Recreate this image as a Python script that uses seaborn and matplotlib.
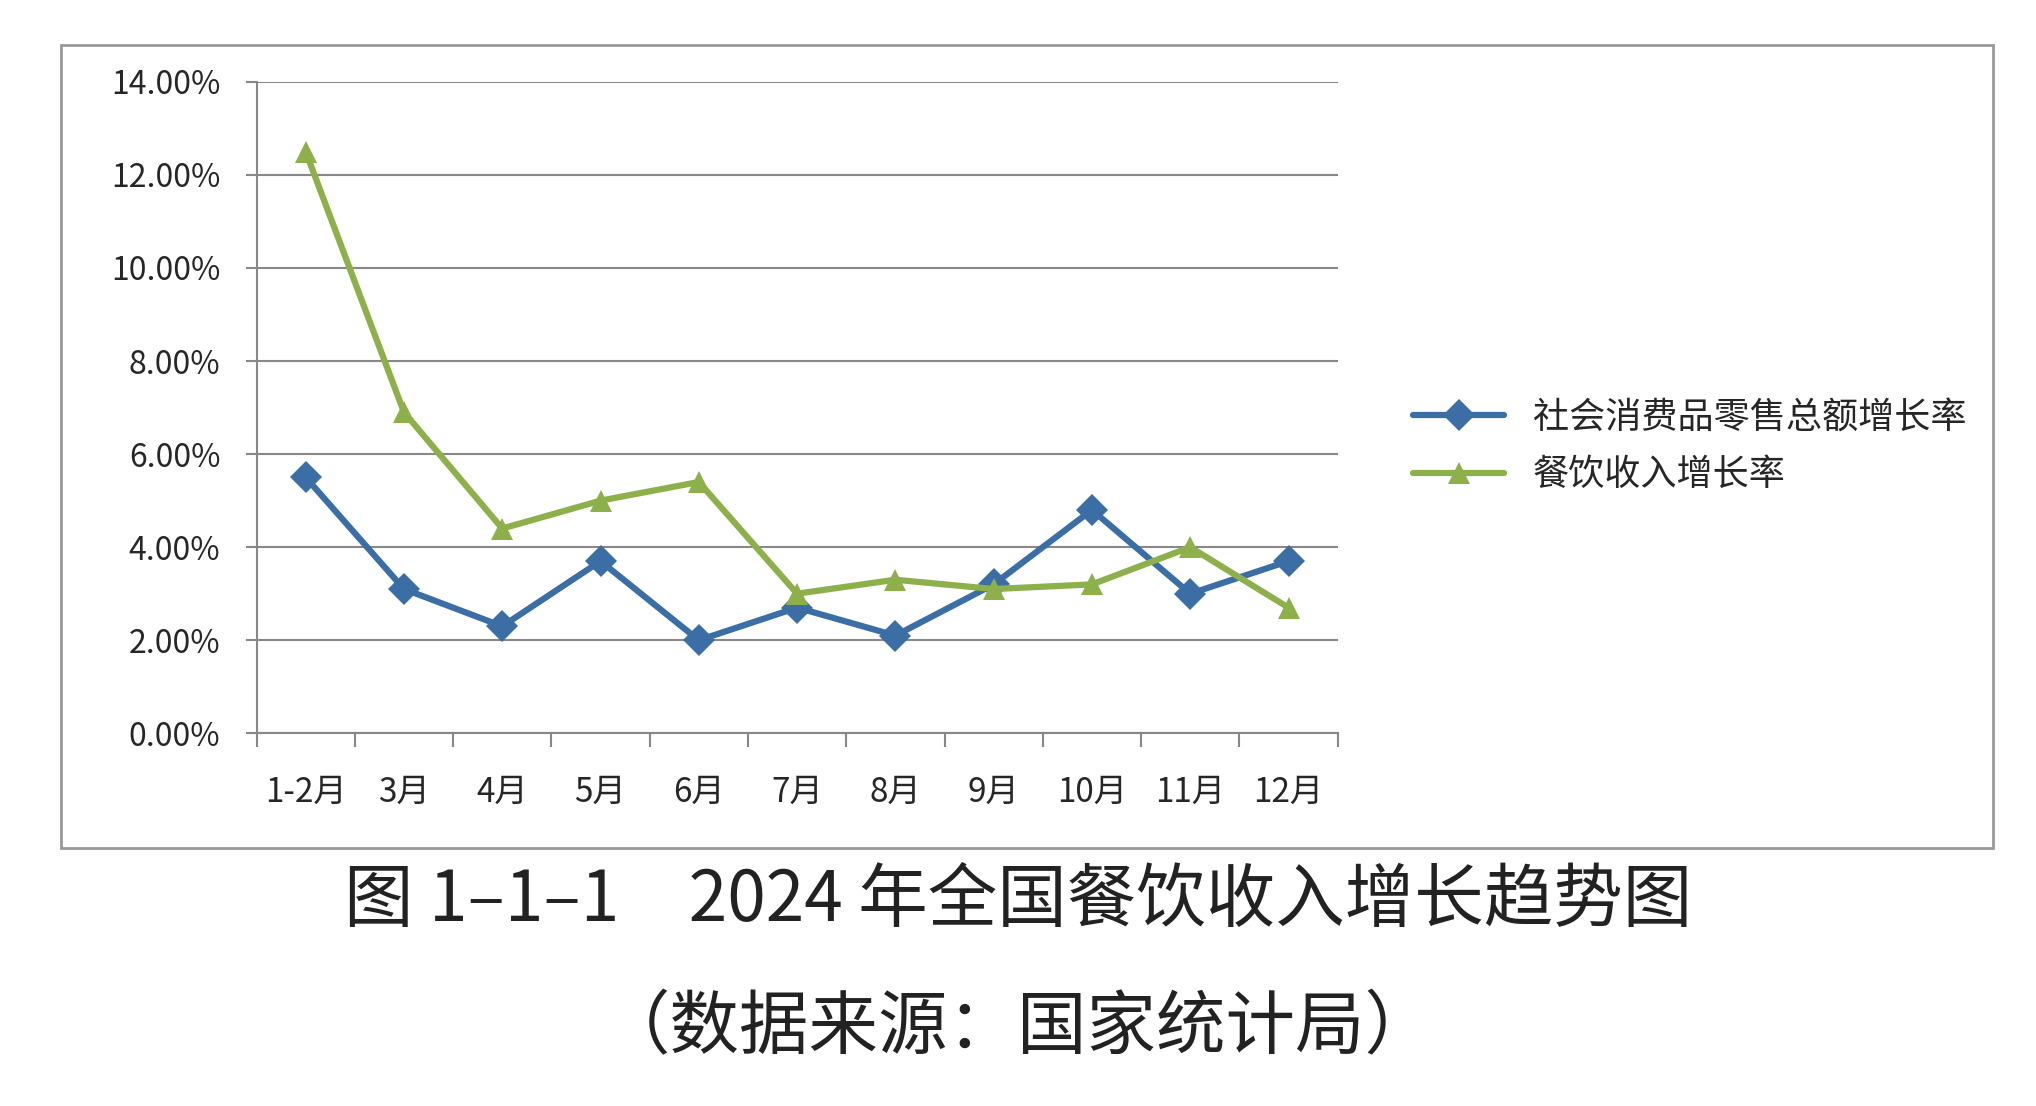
import matplotlib
matplotlib.use("Agg")
import matplotlib.pyplot as plt
import seaborn as sns
import pandas as pd
import numpy as np
from matplotlib.patches import Rectangle
from matplotlib.ticker import FuncFormatter

months = ["1-2月","3月","4月","5月","6月","7月","8月","9月","10月","11月","12月"]
retail = [5.5,3.1,2.3,3.7,2.0,2.7,2.1,3.2,4.8,3.0,3.7]
catering = [12.5,6.9,4.4,5.0,5.4,3.0,3.3,3.1,3.2,4.0,2.7]
series_names = ["社会消费品零售总额增长率","餐饮收入增长率"]

sns.set_theme(style="white")
plt.rcParams['font.family'] = ['Noto Sans CJK SC','DejaVu Sans']

df = pd.DataFrame({"month": months*2, "value": retail+catering,
                   "series": [series_names[0]]*len(months)+[series_names[1]]*len(months)})
df["x"] = list(range(len(months)))*2

fig = plt.figure(figsize=(20.36,11.06), dpi=100)
fig.patches.append(Rectangle((0.030,0.233),0.949,0.726, transform=fig.transFigure,
                             fill=False, edgecolor="#999999", lw=2))
ax = fig.add_axes([0.126,0.337,0.531,0.589])
sns.lineplot(data=df, x="x", y="value", hue="series", style="series",
             palette=["#3A6EA5","#8DB04A"], markers=["D","^"], dashes=False,
             markersize=16, lw=4.5, ax=ax, markeredgewidth=0)
ax.set_ylim(0,14)
ax.set_xlim(-0.5,len(months)-0.5)
ax.set_yticks(np.arange(0,15,2))
ax.yaxis.set_major_formatter(FuncFormatter(lambda v,p: f"{v:.2f}%"))
ax.set_xticks(range(len(months)))
ax.set_xticklabels(months)
ax.set_xticks(np.arange(-0.5,len(months),1), minor=True)
ax.tick_params(axis="x", which="both", bottom=True)
ax.tick_params(axis="y", left=True)
ax.tick_params(axis="x", which="major", length=0, pad=30, labelsize=24)
ax.tick_params(axis="x", which="minor", length=10, width=1.5, color="#888888")
ax.tick_params(axis="y", length=8, width=1.5, color="#888888", labelsize=23, pad=18, direction="out")
ax.grid(axis="y", color="#888888", lw=1.5)
for s in ["top","right"]:
    ax.spines[s].set_visible(False)
for s in ["left","bottom"]:
    ax.spines[s].set_color("#888888"); ax.spines[s].set_linewidth(1.5)
ax.set_xlabel(""); ax.set_ylabel("")
ax.legend(loc="center left", bbox_to_anchor=(1.04,0.44), frameon=False, fontsize=26,
          handlelength=2.5, labelspacing=0.6)
fig.text(0.5,0.185,"图 1–1–1　2024 年全国餐饮收入增长趋势图", ha="center", va="center", fontsize=50, color="#222222")
fig.text(0.5,0.07,"（数据来源：国家统计局）", ha="center", va="center", fontsize=50, color="#222222")
fig.savefig("out.png", dpi=100)
